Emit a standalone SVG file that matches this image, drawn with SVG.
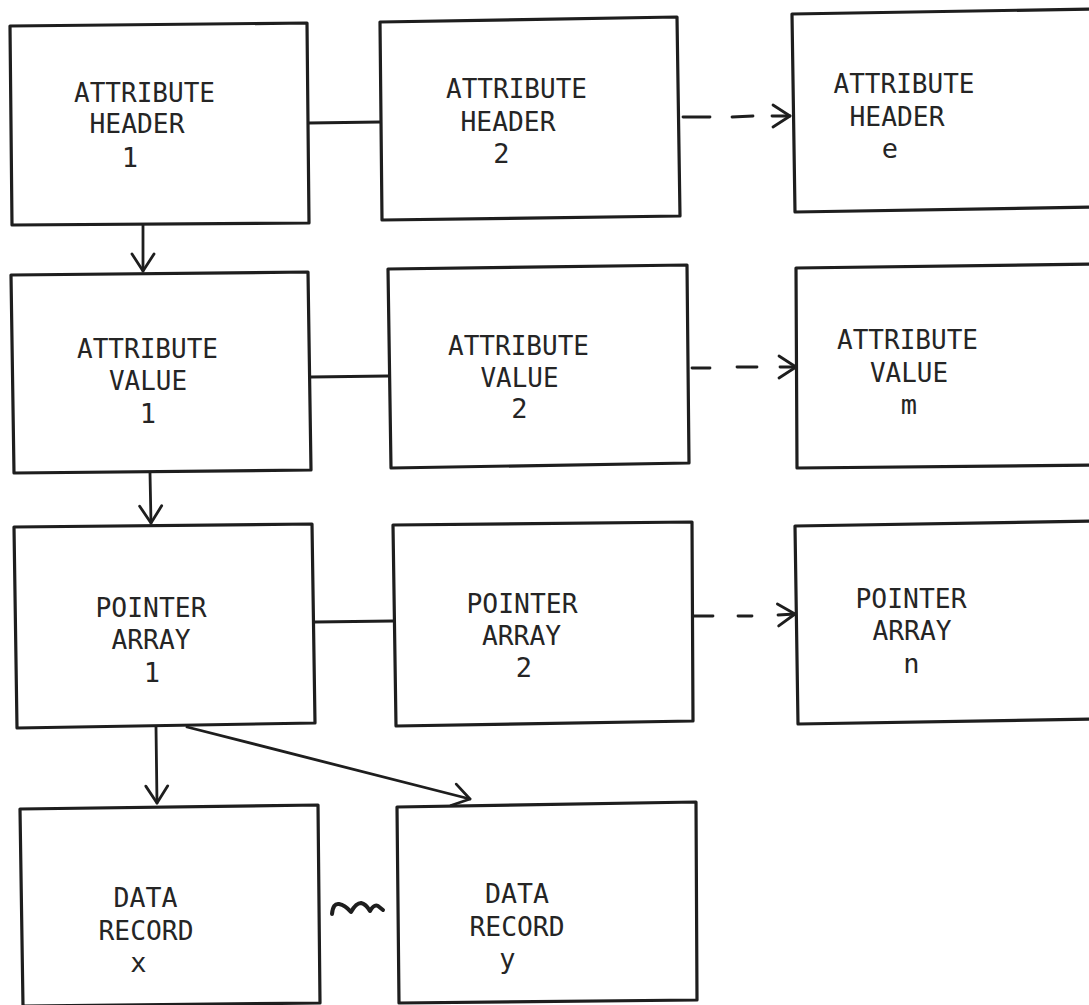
<svg xmlns="http://www.w3.org/2000/svg" width="1089" height="1005" viewBox="0 0 1089 1005">
  <style>
    .box { fill: #ffffff; stroke: #1e1e1e; stroke-width: 3.2; stroke-linejoin: round; }
    .lbl { font-family: "DejaVu Sans Mono", "Liberation Mono", monospace; font-size: 27px; fill: #252525; text-anchor: middle; }
    .link { stroke: #1e1e1e; stroke-width: 2.8; fill: none; stroke-linecap: round; }
    .arrow { stroke: #1e1e1e; stroke-width: 2.8; fill: none; stroke-linecap: round; marker-end: url(#chev); }
    .wave { stroke: #1e1e1e; stroke-width: 4; fill: none; stroke-linecap: round; stroke-linejoin: round; }
  </style>
  <defs>
    <marker id="chev" viewBox="-20 -14 22 28" markerWidth="22" markerHeight="28" refX="0" refY="0" orient="auto" markerUnits="userSpaceOnUse" overflow="visible">
      <path d="M-17,-11 L0,0 L-17,11" fill="none" stroke="#1e1e1e" stroke-width="2.8" stroke-linecap="round" stroke-linejoin="round"/>
    </marker>
  </defs>

  <rect x="0" y="0" width="1089" height="1005" fill="#ffffff"/>

  <!-- connectors -->
  <g id="connectors">
    <!-- header chain -->
    <line class="link" x1="309" y1="123" x2="380" y2="122"/>
    <line class="link" x1="683" y1="117" x2="710" y2="117"/>
    <line class="link" x1="732" y1="117" x2="753" y2="116"/>
    <line class="arrow" x1="772" y1="116" x2="790" y2="116"/>
    <!-- value chain -->
    <line class="link" x1="311" y1="377" x2="388" y2="376"/>
    <line class="link" x1="692" y1="368" x2="710" y2="368"/>
    <line class="link" x1="737" y1="367" x2="757" y2="367"/>
    <line class="arrow" x1="780" y1="367" x2="796" y2="367"/>
    <!-- pointer chain -->
    <line class="link" x1="315" y1="622" x2="393" y2="621"/>
    <line class="link" x1="693" y1="616" x2="713" y2="616"/>
    <line class="link" x1="738" y1="616" x2="752" y2="616"/>
    <line class="arrow" x1="778" y1="615" x2="795" y2="614"/>
    <!-- downward links -->
    <line class="arrow" x1="143" y1="224" x2="143" y2="271"/>
    <line class="arrow" x1="150" y1="473" x2="151" y2="523"/>
    <line class="arrow" x1="156" y1="727" x2="157" y2="803"/>
    <line class="arrow" x1="187" y1="727" x2="470" y2="799"/>
    <!-- record continuation mark -->
    <path class="wave" d="M332,914 Q333,903 339,904 Q345,905 351,912 Q356,903 361,903 Q366,904 370,911 Q374,904 378,906 L383,910"/>
  </g>

  <g id="attr-header-1">
    <polygon class="box" points="10,26 307,23 309,223 12,225"/>
    <text class="lbl" x="144.5" y="102" textLength="141" lengthAdjust="spacingAndGlyphs">ATTRIBUTE</text>
    <text class="lbl" x="137" y="133" textLength="95" lengthAdjust="spacingAndGlyphs">HEADER</text>
    <text class="lbl" x="130" y="167">1</text>
  </g>
  <g id="attr-header-2">
    <polygon class="box" points="380,22 677,17 680,216 382,220"/>
    <text class="lbl" x="516.5" y="98" textLength="141" lengthAdjust="spacingAndGlyphs">ATTRIBUTE</text>
    <text class="lbl" x="508" y="131" textLength="95" lengthAdjust="spacingAndGlyphs">HEADER</text>
    <text class="lbl" x="501.5" y="163">2</text>
  </g>
  <g id="attr-header-e">
    <polygon class="box" points="792,14 1095,9 1095,207 795,212"/>
    <text class="lbl" x="904" y="93" textLength="141" lengthAdjust="spacingAndGlyphs">ATTRIBUTE</text>
    <text class="lbl" x="897" y="126" textLength="95" lengthAdjust="spacingAndGlyphs">HEADER</text>
    <text class="lbl" x="890" y="158">e</text>
  </g>

  <g id="attr-value-1">
    <polygon class="box" points="11,275 308,272 311,470 14,473"/>
    <text class="lbl" x="147.5" y="358" textLength="141" lengthAdjust="spacingAndGlyphs">ATTRIBUTE</text>
    <text class="lbl" x="148" y="390" textLength="78" lengthAdjust="spacingAndGlyphs">VALUE</text>
    <text class="lbl" x="148" y="423">1</text>
  </g>
  <g id="attr-value-2">
    <polygon class="box" points="388,269 687,265 689,463 391,468"/>
    <text class="lbl" x="518.5" y="355" textLength="141" lengthAdjust="spacingAndGlyphs">ATTRIBUTE</text>
    <text class="lbl" x="519.5" y="387" textLength="78" lengthAdjust="spacingAndGlyphs">VALUE</text>
    <text class="lbl" x="519.5" y="418">2</text>
  </g>
  <g id="attr-value-m">
    <polygon class="box" points="796,268 1095,264 1095,465 797,468"/>
    <text class="lbl" x="907.5" y="349" textLength="141" lengthAdjust="spacingAndGlyphs">ATTRIBUTE</text>
    <text class="lbl" x="909" y="382" textLength="78" lengthAdjust="spacingAndGlyphs">VALUE</text>
    <text class="lbl" x="909" y="414">m</text>
  </g>

  <g id="pointer-array-1">
    <polygon class="box" points="14,527 312,524 315,723 17,728"/>
    <text class="lbl" x="151" y="617" textLength="111" lengthAdjust="spacingAndGlyphs">POINTER</text>
    <text class="lbl" x="151" y="649" textLength="79" lengthAdjust="spacingAndGlyphs">ARRAY</text>
    <text class="lbl" x="152" y="682">1</text>
  </g>
  <g id="pointer-array-2">
    <polygon class="box" points="393,525 692,522 693,721 396,726"/>
    <text class="lbl" x="522" y="613" textLength="111" lengthAdjust="spacingAndGlyphs">POINTER</text>
    <text class="lbl" x="521.5" y="645" textLength="79" lengthAdjust="spacingAndGlyphs">ARRAY</text>
    <text class="lbl" x="524" y="677">2</text>
  </g>
  <g id="pointer-array-n">
    <polygon class="box" points="795,526 1095,521 1095,719 798,724"/>
    <text class="lbl" x="911" y="608" textLength="111" lengthAdjust="spacingAndGlyphs">POINTER</text>
    <text class="lbl" x="912" y="640" textLength="79" lengthAdjust="spacingAndGlyphs">ARRAY</text>
    <text class="lbl" x="911.5" y="673">n</text>
  </g>

  <g id="data-record-x">
    <polygon class="box" points="20,809 318,805 320,1003 23,1006"/>
    <text class="lbl" x="145.5" y="907" textLength="64" lengthAdjust="spacingAndGlyphs">DATA</text>
    <text class="lbl" x="146" y="940" textLength="95" lengthAdjust="spacingAndGlyphs">RECORD</text>
    <text class="lbl" x="138.5" y="972">x</text>
  </g>
  <g id="data-record-y">
    <polygon class="box" points="397,807 696,802 697,1000 399,1003"/>
    <text class="lbl" x="517" y="903" textLength="64" lengthAdjust="spacingAndGlyphs">DATA</text>
    <text class="lbl" x="517" y="936" textLength="95" lengthAdjust="spacingAndGlyphs">RECORD</text>
    <text class="lbl" x="507.5" y="968">y</text>
  </g>
</svg>
